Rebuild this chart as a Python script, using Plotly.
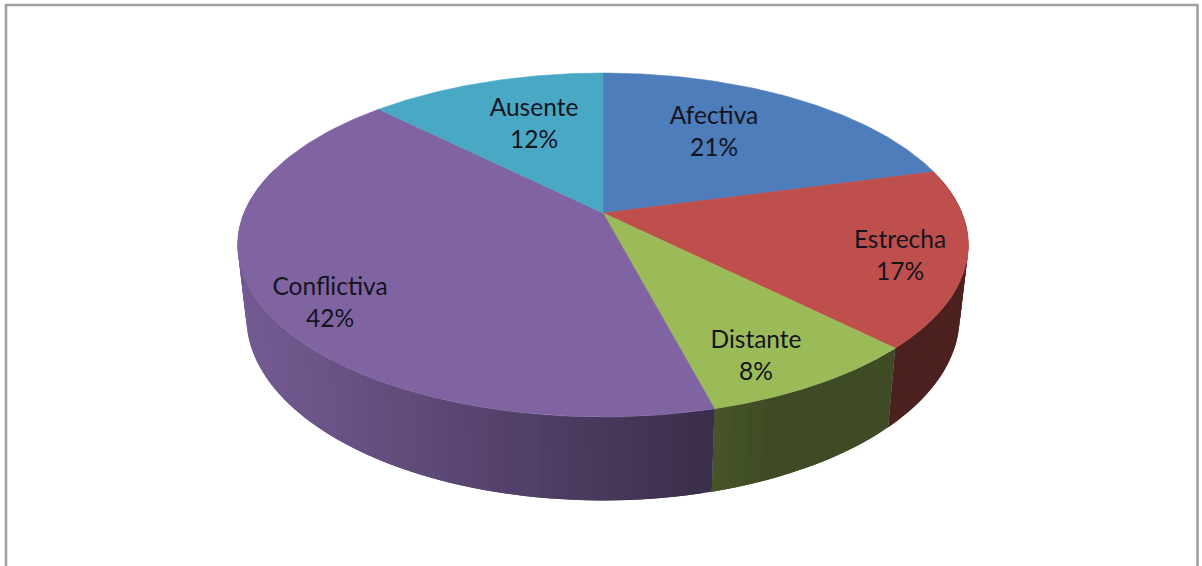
import numpy as np
import plotly.graph_objects as go

categories = ["Afectiva", "Estrecha", "Distante", "Conflictiva", "Ausente"]
values = [20.8, 16.7, 8.4, 41.6, 12.5]
colors = ["#4d7dba", "#bf4f4c", "#9bbb59", "#8064a2", "#49a9c5"]
pct_labels = ["21%", "17%", "8%", "42%", "12%"]

# label centres
label_x = [714, 900, 756, 330, 534]
label_y = [118, 242, 342, 289, 110]
LINE_GAP = 32

W, H = 1202, 566
CX, CY = 603, 213      # apex of the pie on screen
A, B, C = 359.0, 166, 0.186   # perspective of the top disc
DEPTH_SCALE = 0.976


def top_point(theta):
    # theta in radians, clockwise from 12 o'clock
    u, v = np.sin(theta), -np.cos(theta)
    d = 1 - C * v
    return CX + A * u / d, CY + B * v / d


def bottom_point(theta):
    x, y = top_point(theta)
    depth = 83 + 0.066 * (y - 409)
    return CX + DEPTH_SCALE * (x - CX), y + depth


def shade(hex_color, x):
    f = max(0.40, min(0.90, 0.90 - 0.44 * (x - 250) / 460))
    r, g, b = [int(hex_color[i:i + 2], 16) for i in (1, 3, 5)]
    return f"rgb({r * f:.0f},{g * f:.0f},{b * f:.0f})"


edges = np.cumsum([0] + values) / sum(values) * 2 * np.pi

fig = go.Figure()

# side wall, thin strips so the shade can change along x
# each strip runs under the next one, otherwise the antialiased seams show
for i, col in enumerate(colors):
    n = max(2, int((edges[i + 1] - edges[i]) / np.radians(1.2)))
    ts = np.linspace(edges[i], edges[i + 1], n + 1)
    for k in range(n):
        t0, t1 = ts[k], ts[min(k + 2, n)]
        if np.cos(t0) > 0.25:
            continue  # hidden behind the top
        xs = [top_point(t0)[0], top_point(ts[k + 1])[0], top_point(t1)[0],
              bottom_point(t1)[0], bottom_point(ts[k + 1])[0], bottom_point(t0)[0]]
        ys = [top_point(t0)[1], top_point(ts[k + 1])[1], top_point(t1)[1],
              bottom_point(t1)[1], bottom_point(ts[k + 1])[1], bottom_point(t0)[1]]
        c = shade(col, (xs[0] + xs[1]) / 2)
        fig.add_trace(go.Scatter(x=xs + xs[:1], y=ys + ys[:1], mode="lines", fill="toself",
                                 fillcolor=c, line=dict(width=0), hoverinfo="skip"))

# top of the pie
for i, col in enumerate(colors):
    ts = np.linspace(edges[i], edges[i + 1], 120)
    px, py = top_point(ts)
    fig.add_trace(go.Scatter(x=np.r_[CX, px, CX], y=np.r_[CY, py, CY],
                             mode="lines", fill="toself", fillcolor=col,
                             line=dict(color=col, width=0.6), hoverinfo="skip"))

font = dict(family="Lato, Carlito, Calibri, sans-serif", size=24.5, color="#14141e")
fig.add_trace(go.Scatter(x=label_x, y=label_y, mode="text", text=categories,
                         textposition="middle center", textfont=font, hoverinfo="skip"))
fig.add_trace(go.Scatter(x=label_x, y=[y + LINE_GAP for y in label_y], mode="text", text=pct_labels,
                         textposition="middle center", textfont=font, hoverinfo="skip"))

# chart frame, the bottom edge runs off the picture
fig.add_shape(type="rect", x0=6, y0=5, x1=1197.5, y1=600, line=dict(color="#a0a0a0", width=2.5), layer="below")

fig.update_xaxes(range=[0, W], visible=False, fixedrange=True)
fig.update_yaxes(range=[H, 0], visible=False, fixedrange=True)
fig.update_layout(width=W, height=H, margin=dict(l=0, r=0, t=0, b=0), showlegend=False,
                  paper_bgcolor="white", plot_bgcolor="white")

fig.write_html("out.html", config=dict(displayModeBar=False),
               post_script="document.body.style.margin='0';")
